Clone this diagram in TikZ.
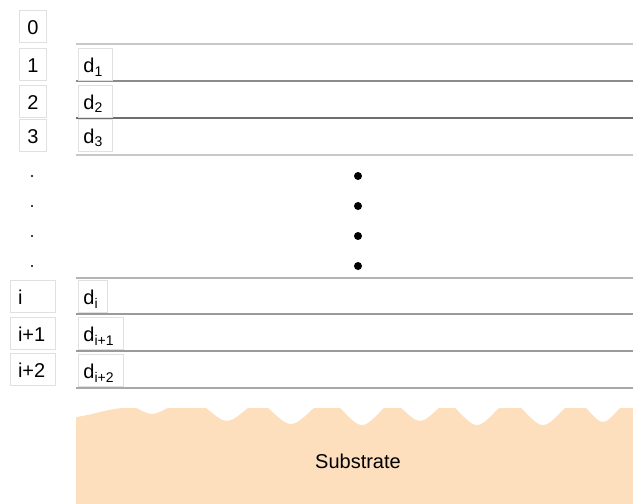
\documentclass[tikz,border=0pt]{standalone}
\usepackage{fontspec}
\setmainfont{Liberation Sans}
\usetikzlibrary{calc}

\definecolor{substratefill}{HTML}{FDDEBD}
\definecolor{boxgray}{HTML}{E0E0E0}
\newcommand{\lsub}[1]{\raisebox{-2.5pt}{\fontsize{10.5}{12}\selectfont #1}}

\begin{document}
\begin{tikzpicture}[x=0.75pt,y=-0.75pt]
\tikzset{labelbox/.style = {draw=boxgray, line width=0.6pt, inner ysep=0pt, minimum height=24pt, text height=13pt, text depth=0.5pt, font=\fontsize{15}{18}\selectfont},
         numbox/.style = {labelbox, inner xsep=0pt, minimum width=20.25pt},
         idxbox/.style = {labelbox, inner xsep=6pt, text width=21.75pt, align=left},
         dbox/.style = {labelbox, anchor=west, inner xsep=3.75pt, text width=#1, align=left},
         layerline/.style = {line width=1.5pt, draw=#1},
         smalldot/.style = {circle, fill=black, inner sep=0pt, minimum size=1.6pt},
         bigdot/.style = {circle, fill=black, inner sep=0pt, minimum size=6pt}}
\useasboundingbox (0,0) rectangle (633,504);

% substrate with rough top
\fill[substratefill] (76,504) -- (76,417) .. controls (92,415) and (108,409) .. (122,408)
  \foreach \cx/\dy/\hw in {152/414/16, 227/421/21, 291/424/23, 362/425/22, 420/421/19, 477/425/22, 543/425/22, 603/422/17} {
    -- ({\cx-\hw},408) .. controls ({\cx-\hw*0.6},{(408+\dy)/2}) and ({\cx-\hw*0.3},\dy) .. (\cx,\dy)
       .. controls ({\cx+\hw*0.3},\dy) and ({\cx+\hw*0.6},{(408+\dy)/2}) .. ({\cx+\hw},408)
  } -- (633,408) -- (633,504) -- cycle;
\node (substrate) at (358,461) {\fontsize{15}{18}\selectfont Substrate};

% layer boundaries
\foreach \y/\g in {44/C8C8C8, 81/8C8C8C, 118/6E6E6E, 155/C8C8C8, 278/B4B4B4, 314/9A9A9A, 351/9A9A9A, 388/A8A8A8} {
  \definecolor{linegray}{HTML}{\g}
  \draw[layerline=linegray] (76,\y) -- (633,\y);
}

% layer numbers
\node[numbox] (n0) at (33,26) {0};
\node[numbox] (n1) at (33,64.5) {1};
\node[numbox] (n2) at (33,101) {2};
\node[numbox] (n3) at (33,135) {3};
\node[idxbox] (ni) at (32.5,296) {i};
\node[idxbox] (nip1) at (32.5,333) {i+1};
\node[idxbox] (nip2) at (32.5,369.5) {i+2};

% thicknesses
\node[dbox=18pt] (d1) at (78,64.5) {d\lsub{1}};
\node[dbox=18pt] (d2) at (78,101) {d\lsub{2}};
\node[dbox=18pt] (d3) at (78,135) {d\lsub{3}};
\node[dbox=14.25pt] (di) at (78,296.5) {d\lsub{i}};
\node[dbox=26.25pt] (dip1) at (78,333.5) {d\lsub{i+1}};
\node[dbox=26.25pt] (dip2) at (78,370.5) {d\lsub{i+2}};

% omitted layers
\foreach \y in {176,206,236,266} {
  \node[smalldot] at (32,\y) {};
  \node[bigdot] at (358,\y) {};
}
\end{tikzpicture}
\end{document}
